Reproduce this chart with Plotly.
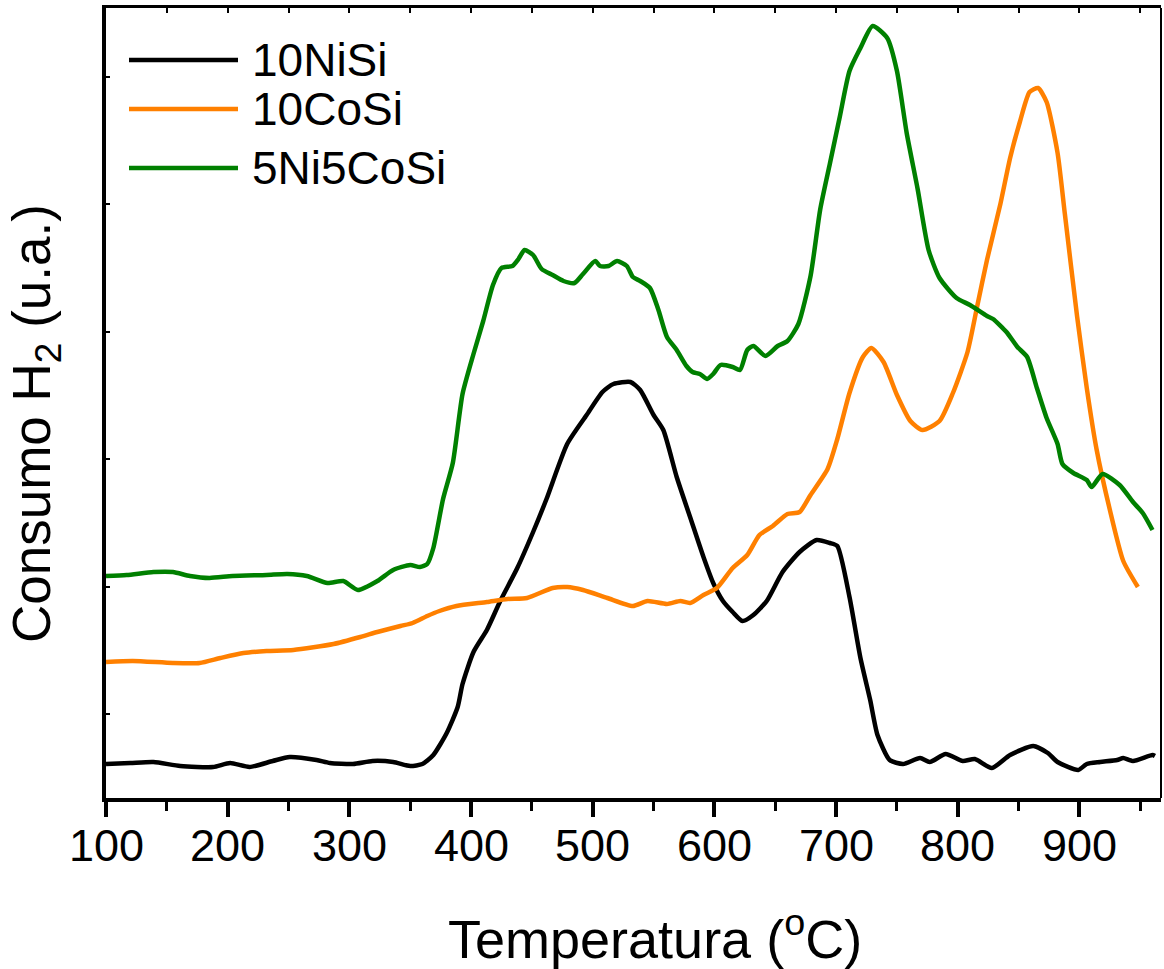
import plotly.graph_objects as go

# ---------------- data (temperature in °C, H2 consumption in arbitrary units) -------------
t_ni = [100, 120, 139, 161, 188, 202, 218, 237, 251, 273, 284, 303, 319, 336, 350, 360, 369,
        380, 389, 393, 402, 413, 424, 438, 451, 462, 479, 495, 508, 517, 531, 539, 550, 558,
        569, 580, 591, 599, 607, 615, 623, 632, 643, 656, 670, 684, 695, 701, 711, 720, 728,
        734, 744, 755, 769, 777, 790, 804, 814, 828, 843, 862, 874, 882, 899, 906, 917, 931,
        936, 944, 960, 962]
y_ni = [34, 35, 36, 32, 31, 35, 31, 37, 41, 38, 35, 34, 37, 36, 32, 34, 43,
        65, 91, 114, 146, 168, 197, 230, 266, 299, 354, 383, 406, 414, 416, 408, 383, 368,
        321, 281, 241, 215, 197, 186, 177, 183, 197, 226, 246, 258, 255, 252, 201, 140, 98,
        63, 38, 34, 40, 36, 44, 37, 39, 30, 43, 52, 45, 36, 28, 34, 36, 38,
        40, 37, 43, 42]

t_co = [100, 122, 155, 177, 194, 213, 232, 254, 287, 309, 323, 342, 352, 364, 374, 388, 413,
        430, 446, 467, 479, 492, 512, 533, 545, 561, 572, 580, 591, 602, 615, 627, 637, 648,
        660, 670, 679, 693, 701, 711, 722, 729, 739, 750, 761, 771, 785, 796, 808, 816, 824,
        835, 843, 851, 859, 866, 873, 882, 888, 898, 906, 914, 925, 936, 948]
y_co = [136, 137, 135, 135, 140, 145, 147, 148, 154, 161, 166, 172, 175, 182, 187, 192, 196,
        199, 200, 210, 211, 208, 200, 192, 197, 194, 197, 195, 203, 210, 230, 243, 263, 272,
        284, 286, 303, 329, 359, 405, 441, 450, 436, 403, 377, 368, 377, 405, 446, 492, 538,
        594, 640, 676, 706, 710, 696, 645, 584, 482, 410, 349, 288, 237, 211]

t_nico = [100, 117, 139, 155, 169, 185, 204, 232, 249, 265, 282, 295, 307, 323, 336, 350, 358,
          364, 369, 377, 385, 393, 402, 410, 418, 425, 434, 439, 444, 451, 458, 467, 476, 485,
          492, 502, 506, 513, 520, 528, 533, 539, 547, 554, 561, 569, 577, 582, 588, 594, 599,
          605, 615, 621, 627, 632, 642, 652, 660, 669, 679, 687, 695, 703, 711, 720, 730, 742,
          750, 758, 767, 776, 785, 799, 810, 824, 829, 840, 849, 857, 865, 873, 882, 886, 895,
          906, 910, 919, 933, 944, 952, 960]
y_nico = [222, 223, 226, 226, 222, 220, 222, 223, 224, 222, 215, 217, 208, 217, 228, 233, 231,
          234, 250, 299, 335, 404, 444, 477, 513, 530, 532, 539, 548, 543, 529, 523, 517, 515,
          524, 537, 532, 532, 537, 532, 521, 517, 510, 488, 461, 448, 432, 426, 424, 419, 424,
          433, 431, 428, 448, 452, 442, 452, 457, 474, 522, 589, 635, 681, 727, 750, 772, 760,
          727, 665, 609, 548, 520, 500, 493, 482, 479, 466, 451, 441, 410, 380, 354, 334, 325,
          318, 311, 324, 313, 296, 285, 268]

series_names = ["10NiSi", "10CoSi", "5Ni5CoSi"]
series_colors = ["#000000", "#FF8000", "#008000"]
x_ticks = [100, 200, 300, 400, 500, 600, 700, 800, 900]

# ---------------- figure -----------------
W, H = 1164, 969
L, R, T, B = 106, 3, 8, 171
PW, PH = W - L - R, H - T - B
FONT = "Liberation Sans, Arial, sans-serif"


def px(x):
    return (x - L) / PW


def py(y):
    return (H - B - y) / PH


fig = go.Figure()
for (tx, ty), name, col in zip([(t_ni, y_ni), (t_co, y_co), (t_nico, y_nico)],
                               series_names, series_colors):
    fig.add_trace(go.Scatter(x=tx, y=ty, mode="lines", name=name,
                             line=dict(color=col, width=4.5, shape="spline", smoothing=0.6),
                             showlegend=False))

fig.update_layout(
    width=W, height=H,
    margin=dict(l=L, r=R, t=T, b=B),
    paper_bgcolor="white", plot_bgcolor="white",
    font=dict(family=FONT, color="black"),
    xaxis=dict(range=[100, 967], tickvals=x_ticks, showticklabels=False,
               ticks="outside", ticklen=15, tickwidth=4, tickcolor="black",
               showline=True, linewidth=4, linecolor="black", showgrid=False, zeroline=False,
               minor=dict(ticks="outside", ticklen=9, tickwidth=3, dtick=50, tick0=50,
                          tickcolor="black", showgrid=False)),
    yaxis=dict(range=[0, 790], showticklabels=False, ticks="inside", ticklen=4, tickwidth=2,
               tick0=84, dtick=127.5, tickcolor="black",
               showline=True, linewidth=4, linecolor="black", showgrid=False, zeroline=False),
    xaxis2=dict(range=[100, 967], overlaying="x", side="top", showticklabels=False,
                ticks="inside", ticklen=5, tickwidth=2, dtick=50, tick0=100, tickcolor="black",
                showline=True, linewidth=3, linecolor="black", showgrid=False, zeroline=False),
)
# invisible trace so the top axis is drawn
fig.add_trace(go.Scatter(x=[100], y=[-100], xaxis="x2", mode="markers",
                         marker=dict(opacity=0), showlegend=False, hoverinfo="skip"))

shapes = [dict(type="line", xref="paper", yref="paper", x0=1, x1=1, y0=0, y1=1,
               line=dict(color="black", width=2))]
annotations = []

# x tick labels (placed at the data positions of the ticks)
for v in x_ticks:
    annotations.append(dict(xref="x", yref="paper", x=v, y=py(845), text=str(v),
                            showarrow=False, xanchor="center", yanchor="middle",
                            font=dict(size=45, family=FONT, color="black")))

# legend (drawn manually to match the long sample lines)
leg_y = [60, 109, 168]
for name, col, ly in zip(series_names, series_colors, leg_y):
    shapes.append(dict(type="line", xref="paper", yref="paper", x0=px(129), x1=px(238),
                       y0=py(ly), y1=py(ly), line=dict(color=col, width=4.5)))
    annotations.append(dict(xref="paper", yref="paper", x=px(250), y=py(ly), text=name,
                            showarrow=False, xanchor="left", yanchor="middle",
                            font=dict(size=46, family=FONT, color="black")))

annotations.append(dict(xref="paper", yref="paper", x=px(655), y=py(935),
                        text="Temperatura (<sup>o</sup>C)", showarrow=False,
                        xanchor="center", yanchor="middle",
                        font=dict(size=54, family=FONT, color="black")))
annotations.append(dict(xref="paper", yref="paper", x=px(36), y=py(424),
                        text="Consumo H<sub>2</sub> (u.a.)", showarrow=False, textangle=-90,
                        xanchor="center", yanchor="middle",
                        font=dict(size=53, family=FONT, color="black")))

fig.update_layout(shapes=shapes, annotations=annotations)
fig.write_html("out.html")
